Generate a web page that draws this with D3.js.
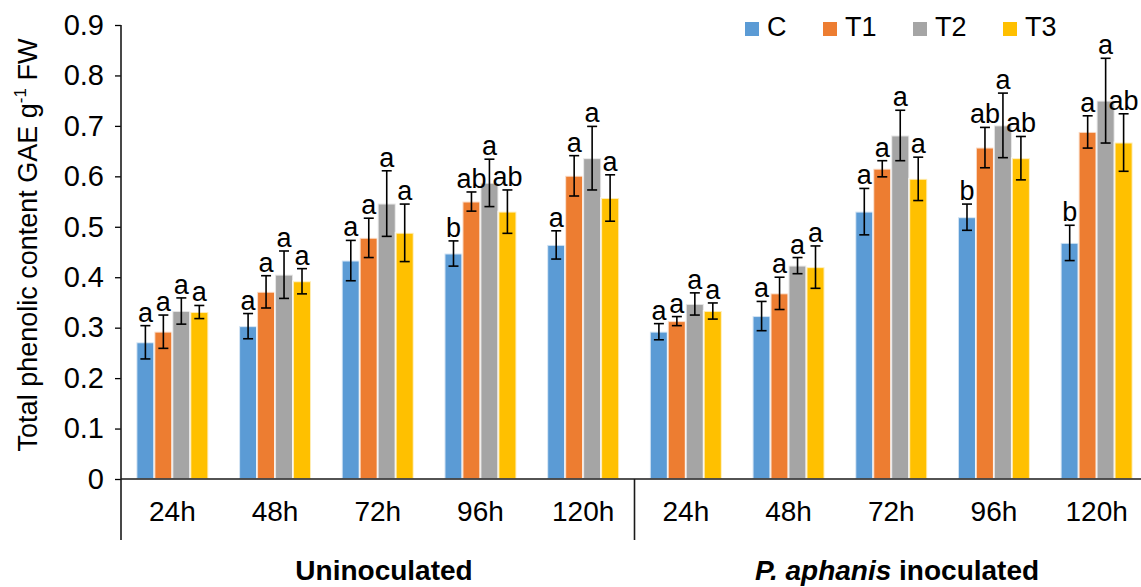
<!DOCTYPE html>
<html>
<head>
<meta charset="utf-8">
<script src="https://cdn.jsdelivr.net/npm/d3@7"></script>
<style>
  html, body { margin: 0; padding: 0; background: #fff; }
  svg { display: block; font-family: "Liberation Sans", Arial, sans-serif; }
</style>
</head>
<body>
<svg id="chart" width="1141" height="587"></svg>
<script>
// Sampling times within each inoculation group
const times = ["24h", "48h", "72h", "96h", "120h"];
const groups = ["Uninoculated", "P. aphanis inoculated"];
const series = ["C", "T1", "T2", "T3"];
const colors = ["#5B9BD5", "#ED7D31", "#A5A5A5", "#FFC000"];
const yTicks = [0, 0.1, 0.2, 0.3, 0.4, 0.5, 0.6, 0.7, 0.8, 0.9];

// Means (first five: uninoculated, last five: inoculated)
const meanC  = [0.271, 0.303, 0.433, 0.447, 0.464, 0.292, 0.323, 0.530, 0.519, 0.468];
const meanT1 = [0.292, 0.371, 0.478, 0.550, 0.601, 0.313, 0.368, 0.615, 0.657, 0.688];
const meanT2 = [0.333, 0.405, 0.546, 0.587, 0.636, 0.347, 0.423, 0.681, 0.701, 0.750];
const meanT3 = [0.331, 0.392, 0.488, 0.530, 0.557, 0.333, 0.420, 0.595, 0.636, 0.667];

// Error bar half-lengths
const errC  = [0.033, 0.025, 0.040, 0.025, 0.028, 0.016, 0.029, 0.046, 0.026, 0.035];
const errT1 = [0.033, 0.032, 0.039, 0.019, 0.040, 0.009, 0.032, 0.016, 0.040, 0.032];
const errT2 = [0.026, 0.047, 0.065, 0.047, 0.063, 0.022, 0.016, 0.050, 0.064, 0.084];
const errT3 = [0.013, 0.025, 0.057, 0.043, 0.046, 0.016, 0.042, 0.043, 0.043, 0.057];

// Significance letters
const letC  = ["a", "a", "a", "b", "a", "a", "a", "a", "b", "b"];
const letT1 = ["a", "a", "a", "ab", "a", "a", "a", "a", "ab", "a"];
const letT2 = ["a", "a", "a", "a", "a", "a", "a", "a", "a", "a"];
const letT3 = ["a", "a", "a", "ab", "a", "a", "a", "a", "ab", "ab"];

const means = [meanC, meanT1, meanT2, meanT3];
const errs = [errC, errT1, errT2, errT3];
const lets = [letC, letT1, letT2, letT3];

const svg = d3.select("#chart");
const plotLeft = 121, plotRight = 1148, plotTop = 25, plotBase = 479;

const cats = d3.range(times.length * groups.length);
const x = d3.scaleBand().domain(cats).range([plotLeft, plotRight]).padding(0);
const W = x.bandwidth();
const xs = d3.scaleBand().domain(series).range([W * 0.15, W * 0.85]).padding(0);
const y = d3.scaleLinear().domain([0, 0.9]).range([plotBase, plotTop]);

// Bars
const barData = [];
series.forEach((s, si) => {
  cats.forEach(ci => {
    barData.push({ s, si, ci, v: means[si][ci], e: errs[si][ci], l: lets[si][ci] });
  });
});

svg.append("g").selectAll("rect").data(barData).join("rect")
  .attr("x", d => x(d.ci) + xs(d.s))
  .attr("y", d => y(d.v))
  .attr("width", xs.bandwidth())
  .attr("height", d => y(0) - y(d.v))
  .attr("fill", d => colors[d.si])
  .attr("stroke", "#fff")
  .attr("stroke-opacity", 0.7)
  .attr("stroke-width", 2);

// Error bars
const eg = svg.append("g").attr("stroke", "#000").attr("stroke-width", 1.6);
barData.forEach(d => {
  const cx = x(d.ci) + xs(d.s) + xs.bandwidth() / 2;
  const y1 = y(d.v + d.e), y2 = y(d.v - d.e);
  eg.append("line").attr("x1", cx).attr("x2", cx).attr("y1", y1).attr("y2", y2);
  eg.append("line").attr("x1", cx - 5).attr("x2", cx + 5).attr("y1", y1).attr("y2", y1);
  eg.append("line").attr("x1", cx - 5).attr("x2", cx + 5).attr("y1", y2).attr("y2", y2);
});

// Significance letters
svg.append("g").selectAll("text").data(barData).join("text")
  .attr("x", d => x(d.ci) + xs(d.s) + xs.bandwidth() / 2)
  .attr("y", d => y(d.v + d.e) - 4)
  .attr("text-anchor", "middle")
  .attr("font-size", 27)
  .attr("fill", "#000")
  .text(d => d.l);

// Y axis
const yAxis = d3.axisLeft(y).tickValues(yTicks).tickSize(6).tickPadding(11)
  .tickFormat(d => d === 0 ? "0" : d3.format(".1f")(d));
const ya = svg.append("g").attr("transform", `translate(${plotLeft},0)`).call(yAxis);
ya.select(".domain").remove();
ya.selectAll(".tick line").attr("stroke", "#000").attr("stroke-width", 1.3);
ya.selectAll(".tick text").attr("font-size", 29).attr("fill", "#000")
  .attr("font-family", "Liberation Sans, Arial, sans-serif");

// Axis lines
const ax = svg.append("g").attr("stroke", "#1a1a1a").attr("stroke-width", 1.6);
ax.append("line").attr("x1", plotLeft).attr("x2", plotRight).attr("y1", plotBase).attr("y2", plotBase);
ax.append("line").attr("x1", plotLeft).attr("x2", plotLeft).attr("y1", plotTop).attr("y2", 540);
[times.length, times.length * 2].forEach(i => {
  const xx = x(i - 1) + W;
  ax.append("line").attr("x1", xx).attr("x2", xx).attr("y1", plotBase).attr("y2", 540);
});

// Category labels
svg.append("g").selectAll("text").data(cats).join("text")
  .attr("x", d => x(d) + W / 2)
  .attr("y", 521)
  .attr("text-anchor", "middle")
  .attr("font-size", 28)
  .attr("fill", "#000")
  .text(d => times[d % times.length]);

// Group labels
const gl = svg.append("g").attr("font-size", 28).attr("font-weight", "bold").attr("fill", "#000");
gl.append("text").attr("x", 384).attr("y", 580).attr("text-anchor", "middle").text(groups[0]);
const g2 = gl.append("text").attr("x", 897).attr("y", 580).attr("text-anchor", "middle");
g2.append("tspan").attr("font-style", "italic").text("P. aphanis");
g2.append("tspan").text(" inoculated");

// Y axis title
const yt = svg.append("text")
  .attr("transform", "translate(37,245) rotate(-90)")
  .attr("text-anchor", "middle")
  .attr("font-size", 27)
  .attr("fill", "#000");
yt.append("tspan").text("Total phenolic content GAE g");
yt.append("tspan").attr("font-size", 17).attr("dy", -11).text("-1");
yt.append("tspan").attr("dy", 11).text(" FW");

// Legend
const legX = [745, 823, 913, 1003];
const lg = svg.append("g");
series.forEach((s, i) => {
  lg.append("rect").attr("x", legX[i]).attr("y", 22).attr("width", 14).attr("height", 14).attr("fill", colors[i]);
  lg.append("text").attr("x", legX[i] + 22).attr("y", 36).attr("font-size", 27).attr("fill", "#000").text(s);
});
</script>
</body>
</html>
